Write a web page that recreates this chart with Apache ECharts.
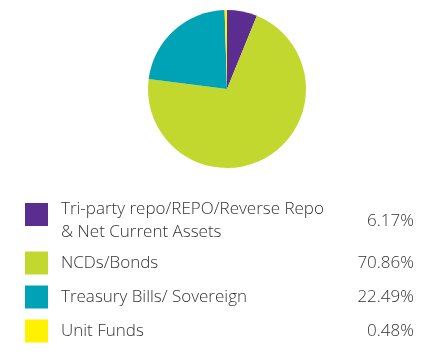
<!DOCTYPE html>
<html><head><meta charset="utf-8">
<script src="https://cdn.jsdelivr.net/npm/echarts@6/dist/echarts.min.js"></script>
<style>html,body{margin:0;padding:0;background:#fff}#c{width:444px;height:357px}</style>
</head><body><div id="c"></div>
<script>
var categories = ['Tri-party repo/REPO/Reverse Repo\n& Net Current Assets', 'NCDs/Bonds', 'Treasury Bills/ Sovereign', 'Unit Funds'];
var values = [6.17, 70.86, 22.49, 0.48];
var colors = ['#5b2d90', '#c3d82e', '#00a3b5', '#fff200'];

var chart = echarts.init(document.getElementById('c'));
var rowCenters = [221, 263, 297, 331];
var graphics = [];
var font = '"Open Sans", sans-serif';
categories.forEach(function (name, i) {
  var lines = name.split('\n').length;
  var cy = rowCenters[i];
  var sqTop = lines > 1 ? 203 : cy - 11.5;
  graphics.push({type: 'rect', left: 25, top: sqTop, shape: {width: 23, height: 23}, style: {fill: colors[i]}, silent: true});
  graphics.push({type: 'text', x: 61, y: cy, style: {text: name, font: '300 17px ' + font, fill: '#333333', verticalAlign: 'middle', lineHeight: 23}, silent: true});
  graphics.push({type: 'text', x: 414, y: cy, style: {text: values[i].toFixed(2) + '%', font: '300 17px ' + font, fill: '#333333', align: 'right', verticalAlign: 'middle'}, silent: true});
});

chart.setOption({
  animation: false,
  series: [{
    type: 'pie',
    center: [227, 89],
    radius: 79,
    startAngle: 90,
    clockwise: true,
    label: {show: false},
    labelLine: {show: false},
    silent: true,
    data: categories.map(function (n, i) { return {name: n, value: values[i], itemStyle: {color: colors[i]}}; })
  }],
  graphic: graphics
});
</script>
</body></html>
